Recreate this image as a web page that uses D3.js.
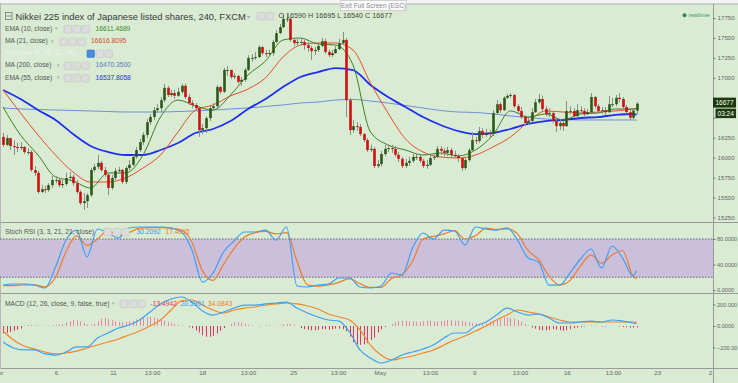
<!DOCTYPE html>
<html><head><meta charset="utf-8">
<script src="https://cdn.jsdelivr.net/npm/d3@7"></script>
<style>body{margin:0;background:#fff;}svg{display:block;font-family:"Liberation Sans",Arial,sans-serif;}</style>
</head><body><svg id="c" width="738" height="383"></svg>
<script>
// ---------- DATA ----------
const firstOpen = 16260;
const closes = [16160,16245,16145,16135,16120,16135,16070,16070,15845,15810,
15570,15605,15595,15655,15720,15720,15655,15670,15745,15760,
15680,15570,15430,15455,15530,15845,15885,15935,15845,15785,
15620,15745,15835,15845,15695,15870,15910,16010,16095,16195,
16285,16445,16510,16595,16620,16720,16875,16785,16810,16775,
16825,16900,16760,16685,16660,16620,16345,16370,16495,16620,
16645,16885,16825,17100,17100,17010,17025,16950,16975,17100,
17250,17250,17260,17385,17310,17300,17310,17450,17560,17635,
17740,17740,17475,17435,17450,17450,17410,17375,17335,17350,
17400,17460,17325,17285,17310,17360,17435,17475,16720,16345,
16395,16385,16295,16220,16095,16110,15895,15920,16045,16110,
16120,16110,16035,15985,15895,15935,15960,16010,16010,15960,
15895,15910,15995,16010,16110,16085,16060,16095,16035,16020,
15995,15870,15970,16095,16220,16210,16335,16285,16310,16295,
16560,16670,16595,16750,16775,16785,16645,16585,16510,16435,
16460,16570,16695,16735,16610,16545,16560,16460,16395,16435,
16395,16585,16585,16520,16595,16585,16545,16570,16760,16645,
16585,16595,16570,16670,16670,16750,16735,16635,16570,16500,
16590,16677];
const highs = [16310,16285,16220,16220,16185,16195,16145,16120,16095,15895,
15835,15655,15645,15680,15770,15770,15745,15720,15810,15820,
15785,15720,15595,15555,15555,15870,15920,16035,15960,15885,
15800,15785,15870,15885,15860,15895,15970,16035,16135,16235,
16320,16485,16545,16635,16670,16760,16925,16900,16850,16850,
16875,16925,16925,16800,16720,16685,16645,16420,16520,16660,
16685,16910,16900,17125,17150,17100,17060,17035,17010,17125,
17285,17300,17325,17410,17400,17350,17350,17475,17600,17675,
17790,17800,17760,17500,17490,17500,17475,17450,17400,17385,
17425,17500,17490,17350,17350,17400,17490,17575,17500,16750,
16470,16445,16420,16310,16245,16160,16130,15970,16085,16160,
16160,16160,16145,16070,16010,15985,16010,16045,16060,16045,
15985,15970,16035,16060,16145,16145,16120,16135,16120,16085,
16045,15995,16010,16120,16320,16260,16385,16370,16360,16345,
16595,16720,16695,16770,16800,16810,16800,16670,16635,16535,
16495,16620,16735,16800,16775,16645,16620,16570,16495,16485,
16460,16710,16645,16620,16670,16645,16620,16610,16810,16775,
16670,16635,16635,16775,16750,16785,16810,16760,16660,16620,
16620,16695];
const lows = [16135,16145,16095,16035,16070,16095,16045,16035,15820,15770,
15545,15555,15555,15570,15620,15680,15630,15620,15645,15705,
15645,15545,15405,15345,15370,15505,15820,15855,15820,15760,
15530,15595,15720,15795,15670,15670,15845,15895,15985,16070,
16160,16245,16410,16470,16560,16570,16695,16760,16760,16735,
16760,16800,16735,16660,16620,16595,16260,16295,16310,16460,
16595,16610,16800,16810,17025,16985,16985,16925,16900,16950,
17085,17200,17225,17250,17285,17260,17275,17275,17435,17550,
17625,17700,17450,17400,17410,17410,17350,17325,17225,17285,
17325,17385,17300,17260,17260,17300,17350,17410,16510,16285,
16310,16335,16270,16195,16070,16070,15870,15870,15885,16020,
16070,16060,16010,15945,15870,15870,15895,15935,15970,15935,
15870,15860,15895,15970,15995,16035,16020,16020,16010,15995,
15945,15835,15845,15945,16070,16170,16185,16245,16260,16260,
16270,16545,16560,16585,16735,16750,16620,16560,16485,16410,
16410,16445,16560,16670,16570,16520,16510,16435,16320,16345,
16335,16385,16545,16495,16495,16560,16520,16535,16560,16620,
16560,16545,16535,16560,16635,16645,16695,16610,16545,16470,
16480,16540];

// moving averages, read every 5th candle (plus the last one)
const ema10 = [16635,16284,16033,15758,15708,15620,15808,15808,16033,16510,16722,16647,16597,16785,17036,17211,17474,17499,17424,17412,17161,16321,16159,16096,16033,16058,16021,16096,16284,16585,16509,16547,16472,16547,16560,16610,16610,16611.4689];
const ma21 = [16848,16560,16284,16033,15820,15695,15695,15745,15870,16033,16321,16597,16660,16773,16860,17000,17261,17412,17437,17437,17349,16935,16560,16234,16071,16008,15996,16033,16134,16259,16447,16585,16572,16560,16572,16585,16610,16616.8095];
const ema55 = [16848,16735,16597,16472,16296,16146,16071,16033,16033,16096,16184,16309,16359,16459,16610,16735,16885,17011,17073,17123,17098,16910,16760,16635,16509,16409,16334,16296,16309,16359,16422,16459,16472,16497,16509,16535,16547,16537.8058];
const ma200 = [16622,16610,16603,16597,16591,16585,16578,16572,16572,16572,16578,16585,16597,16610,16622,16641,16660,16685,16697,16722,16729,16710,16685,16654,16622,16591,16572,16566,16547,16522,16503,16484,16478,16472,16472,16472,16472,16470.35];

// oscillators, read every 3rd candle (plus the last one)
const stochK = [7.8,9.4,9.4,7.8,3.1,36,78.4,94,52,95.7,89.4,81.6,97.3,98.8,98.8,98.8,97.3,91,62.7,12.5,26.7,59.6,76.9,91,91,94,78.4,98.8,6.3,4.7,7.8,9.4,18.8,18.8,4.7,3.1,6.3,26.7,23.5,65.9,89.4,80,94,92.5,70.6,98.8,95.7,94,97.3,78.4,50.2,43.9,7.8,7.8,26.7,48.6,64.3,34.5,69,50.2,22,30.2092];
const stochD = [7,7,8,8,5,20,60,85,70,80,93,86,90,97,98,98,97,94,75,30,15,40,65,83,90,92,88,90,45,8,6,8,12,18,10,4,4,18,24,45,80,84,88,93,80,85,97,95,96,88,62,48,22,8,15,38,55,42,55,62,22,17.4095];
const macdLine = [-149,-205,-223,-223,-260,-270,-242,-195,-195,-112,-65,-19,9,56,130,205,251,270,223,140,102,130,167,195,195,205,214,223,167,121,84,56,46,-56,-223,-298,-344,-316,-270,-242,-214,-177,-112,-65,-65,0,37,102,167,130,102,112,74,28,28,37,46,37,56,46,28,20.5901];
const signalLine = [-47,-130,-186,-214,-242,-260,-251,-233,-205,-177,-149,-121,-84,-47,0,56,149,233,242,195,149,121,149,167,177,195,205,214,205,186,158,112,84,56,-37,-177,-270,-316,-298,-279,-251,-223,-177,-130,-93,-47,0,56,102,149,130,112,84,56,37,37,37,37,37,37,37,34.0843];
// MACD histogram, one value per candle
const histogram = [-70,-65,-55,-45,-35,-25, 5,8,10,10,8,5,3, 5,8,12,15,18,
30,45,55,55,45,30,15,10,20,45, 70,75,65,55,45,40,35,40,
45,50,60,70,80,85,85,80,70,60,50,40,30, 20,10,5,0,-10,-20,
-40,-60,-85,-100,-100,-90,-70,-45,-20,0, 20,35,35,30,20,10,
5,0,-5,0,5,10,5,0,5,15, 20,20,10,0,
-20,-30,-35,-40,-40,-35,-30,-30,-35,-30,-25,-25,-30,
-50,-100,-150,-170,-175,-170,-160,-130,-110,-60, -30,-10,0,
20,35,45,50,50,45,45,40,40,45,50,50,45,40,45,50,55,55,50,50,45,40,35,30,25,20,20,25,
35,50,65,75,80,80,75,70,55,40,20,5,
-15,-25,-35,-40,-40,-35,-30,-35,-40,-45,-40,-30,-20,-15,
-10,-5,0,5,5,0,-5,-5,0,5,0,-5,-10,-10,-15,-15,-13.4942];

const priceTicks = [15250,15500,15750,16000,16250,16500,16750,17000,17250,17500,17750];
const stochTicks = [0,40,80];
const macdTicks = [-200,0,200];
const timeLabels = ["Apr","6","11","13:00","18","13:00","25","13:00","May","13:00","9","13:00","16","13:00","23","2"];
const timeIdx = [-1.4,15.1,31.4,42.6,56.9,70,82.9,95.7,107.7,122,134.6,147.7,161.1,174.3,186.9,202];

// ---------- CHART ----------
const svg = d3.select("#c");
const BG = "#d9ebd3";
const axisX = 713;
const N = closes.length;
const opens = closes.map((c,i)=> i===0 ? firstOpen : closes[i-1]);

const x = d3.scaleLinear().domain([0, N-1]).range([3, 636.5]);
const yP = d3.scaleLinear().domain([15250,17750]).range([217.5,18]);
const yS = d3.scaleLinear().domain([0,80]).range([290,239]);
const yM = d3.scaleLinear().domain([-200,200]).range([347.5,304.5]);

svg.append("rect").attr("width",738).attr("height",383).attr("fill",BG);
svg.append("rect").attr("width",738).attr("height",3.5).attr("fill","#f4f4f4");
svg.append("line").attr("x1",0).attr("x2",738).attr("y1",4).attr("y2",4).attr("stroke","#b0b0b0");

const defs = svg.append("defs");
defs.append("clipPath").attr("id","cpMain").append("rect").attr("x",0).attr("y",5).attr("width",axisX).attr("height",217);
defs.append("clipPath").attr("id","cpSt").append("rect").attr("x",0).attr("y",223).attr("width",axisX).attr("height",70);
defs.append("clipPath").attr("id","cpMa").append("rect").attr("x",0).attr("y",294).attr("width",axisX).attr("height",74);

// pane separators
[222.5,293.5,368.5].forEach(yy=>{
  svg.append("line").attr("x1",0).attr("x2",738).attr("y1",yy).attr("y2",yy).attr("stroke","#9a9a9a").attr("stroke-width",1);
});
svg.append("line").attr("x1",0.5).attr("x2",0.5).attr("y1",4).attr("y2",369).attr("stroke","#b8b8b8");
svg.append("line").attr("x1",axisX+0.5).attr("x2",axisX+0.5).attr("y1",4).attr("y2",383).attr("stroke","#9a9a9a");

// ---- main pane ----
const gMain = svg.append("g").attr("clip-path","url(#cpMain)");
const maIdx = d3.range(0, N-1, 5).concat([N-1]);
const line = (yScale)=> d3.line().x(d=>x(d[0])).y(d=>yScale(d[1])).curve(d3.curveMonotoneX);
const drawLine=(g,idx,vals,ys,color,w)=>{
  g.append("path").datum(idx.map((k,j)=>[k,vals[j]])).attr("d",line(ys))
   .attr("fill","none").attr("stroke",color).attr("stroke-width",w).attr("stroke-linejoin","round");
};
drawLine(gMain,maIdx,ma200,yP,"#6f8fd8",1);
drawLine(gMain,maIdx,ema55,yP,"#1f2ff0",1.8);
drawLine(gMain,maIdx,ma21,yP,"#e0502c",1);
drawLine(gMain,maIdx,ema10,yP,"#3e7f22",1);

const cg = gMain.append("g");
closes.forEach((c,i)=>{
  const o = opens[i], cx = Math.round(x(i))+0.5;
  cg.append("line").attr("x1",cx).attr("x2",cx).attr("y1",yP(highs[i])).attr("y2",yP(lows[i]))
    .attr("stroke","#8a8f88").attr("stroke-width",1);
  const top = yP(Math.max(o,c)), bot = yP(Math.min(o,c));
  cg.append("rect").attr("x",cx-1.3).attr("y",top).attr("width",2.6).attr("height",Math.max(1,bot-top))
    .attr("fill", c>=o ? "#2b5a18" : "#cc1010");
});

// price axis (labels hidden behind the last-price tags are not drawn, as in the reference)
const lastY = yP(closes[N-1]);
const aP = svg.append("g").attr("transform",`translate(${axisX},0)`)
  .call(d3.axisRight(yP).tickValues(priceTicks).tickSize(2.5).tickPadding(2).tickFormat(d=>d));
aP.select(".domain").remove();
aP.selectAll("line").attr("stroke","#777");
aP.selectAll("text").attr("font-size","6.2px").attr("fill","#666")
  .filter(d=>Math.abs(yP(d)-lastY-3)<13).remove();

// last price tags
svg.append("rect").attr("x",713).attr("y",lastY-6).attr("width",23).attr("height",10).attr("fill","#1c3a0e");
svg.append("text").attr("x",724.5).attr("y",lastY+1.5).attr("text-anchor","middle").attr("font-size","6.5px").attr("fill","#fff").text(d3.format("d")(closes[N-1]));
svg.append("rect").attr("x",715.5).attr("y",lastY+5).attr("width",20.5).attr("height",9.5).attr("fill","#1c3a0e");
svg.append("text").attr("x",725.7).attr("y",lastY+12).attr("text-anchor","middle").attr("font-size","6.5px").attr("fill","#fff").text("03:24");

// ---- stoch pane ----
const gSt = svg.append("g").attr("clip-path","url(#cpSt)");
gSt.append("rect").attr("x",0).attr("width",axisX).attr("y",yS(80)).attr("height",yS(20)-yS(80)).attr("fill","#cbbfdc");
[80,20].forEach(v=>gSt.append("line").attr("x1",0).attr("x2",axisX).attr("y1",yS(v)).attr("y2",yS(v))
  .attr("stroke","#666").attr("stroke-dasharray","1.5,1.5").attr("stroke-width",1));
const oscIdx = d3.range(0, N-1, 3).concat([N-1]);
drawLine(gSt,oscIdx,stochD,yS,"#f07b2c",1.2);
drawLine(gSt,oscIdx,stochK,yS,"#3ea0f0",1.2);
const aS = svg.append("g").attr("transform",`translate(${axisX},0)`)
  .call(d3.axisRight(yS).tickValues(stochTicks).tickSize(2.5).tickPadding(1.5).tickFormat(d3.format(".4f")));
aS.select(".domain").remove();
aS.selectAll("line").attr("stroke","#777");
aS.selectAll("text").attr("font-size","5.6px").attr("fill","#666");

// ---- MACD pane ----
const gM = svg.append("g").attr("clip-path","url(#cpMa)");
histogram.forEach((v,i)=>{
  const cx = Math.round(x(i))+0.5;
  gM.append("line").attr("x1",cx).attr("x2",cx).attr("y1",yM(0)).attr("y2",yM(v))
    .attr("stroke", v>=0 ? "#ef86a8" : "#e5336a").attr("stroke-width",1);
});
drawLine(gM,oscIdx,signalLine,yM,"#f0862c",1.2);
drawLine(gM,oscIdx,macdLine,yM,"#3ea0f0",1.2);
const aM = svg.append("g").attr("transform",`translate(${axisX},0)`)
  .call(d3.axisRight(yM).tickValues(macdTicks).tickSize(2.5).tickPadding(1.5)
  .tickFormat(d=> d===0 ? "0.0000" : (d>0 ? d3.format(".3f")(d) : d3.format(".2f")(d))));
aM.select(".domain").remove();
aM.selectAll("line").attr("stroke","#777");
aM.selectAll("text").attr("font-size","5.6px").attr("fill","#666");

// time axis
const aT = svg.append("g").attr("transform","translate(0,371)")
  .call(d3.axisBottom(x).tickValues(timeIdx).tickSize(0).tickPadding(0).tickFormat((d,i)=>timeLabels[i]));
aT.select(".domain").remove();
aT.selectAll("text").attr("font-size","6.2px").attr("fill","#666").attr("dy","0.71em");

// ---------- TEXT / LEGENDS ----------
const T=(xx,yy,s,size,color,anchor)=>svg.append("text").attr("x",xx).attr("y",yy).attr("font-size",size+"px")
  .attr("fill",color).attr("text-anchor",anchor||"start").text(s);
const icons=(xx,yy,n,first)=>{for(let k=0;k<n;k++){
  svg.append("rect").attr("x",xx+k*9).attr("y",yy).attr("width",7.5).attr("height",7.5).attr("rx",1)
   .attr("fill", (k===0&&first)?first:"#dcdcdc").attr("stroke",(k===0&&first)?"#3a78d0":"#c4c4c4").attr("stroke-width",0.6);
}};
// collapse icon
svg.append("rect").attr("x",5.5).attr("y",12.5).attr("width",6.5).attr("height",7).attr("fill","none").attr("stroke","#777").attr("stroke-width",0.8);
svg.append("line").attr("x1",6.5).attr("x2",11).attr("y1",16).attr("y2",16).attr("stroke","#777").attr("stroke-width",0.8);
T(15.5,20,"Nikkei 225 index of Japanese listed shares, 240, FXCM",9.4,"#3a3a3a");
T(246.5,19,"▾",6,"#aaa");
icons(257,12.5,2);
T(278.5,18.3,"O 16590 H 16695 L 16540 C 16677",7.2,"#3d4a35");

T(5,30.5,"EMA (10, close)",6.7,"#555"); T(55,30,"▾",5,"#aaa"); icons(64,25.5,3); T(95.5,30.5,"16611.4689",6.7,"#3c8c2a");
T(5,43,"MA (21, close)",6.7,"#555"); T(51,42.5,"▾",5,"#aaa"); icons(60,38,3); T(91,43,"16616.8095",6.7,"#e0452a");
T(5,55,"Ichimoku (9, 26, 52, 26)",6.7,"#eef2f0"); T(78,54.5,"▾",5,"#e8ece8"); icons(87,50,3,"#4a8ae0");
T(5,67,"MA (200, close)",6.7,"#555"); T(57,66.5,"▾",5,"#aaa"); icons(64,62,3); T(95.5,67,"16470.3500",6.7,"#5a78c8");
T(5,79.5,"EMA (55, close)",6.7,"#555"); T(57,79,"▾",5,"#aaa"); icons(64,74.5,3); T(95.5,79.5,"16537.8058",6.7,"#2030e0");

T(5,234,"Stoch RSI (3, 3, 21, 21, close)",6.7,"#555"); icons(104,228.5,3); T(136.5,234,"30.2092",6.7,"#2e96ee"); T(165.5,234,"17.4095",6.7,"#f07b2c");
T(5,305.5,"MACD (12, 26, close, 9, false, true)",6.7,"#555"); T(112,305,"▾",5,"#aaa"); icons(120,300,3);
T(150.5,305.5,"-13.4942",6.7,"#e5336a"); T(180.5,305.5,"20.5901",6.7,"#2e96ee"); T(208,305.5,"34.0843",6.7,"#f07b2c");

// realtime
svg.append("circle").attr("cx",684.5).attr("cy",15.2).attr("r",2).attr("fill","#2e8b50");
T(688.5,17.3,"realtime",6,"#3a9a5a");

// exit full screen
svg.append("rect").attr("x",340.5).attr("y",0.5).attr("width",66).attr("height",10).attr("fill","#fafafa").attr("stroke","#d0d0d0");
T(373.5,8,"Exit Full Screen (ESC)",6.5,"#8a8a8a","middle");
</script></body></html>
